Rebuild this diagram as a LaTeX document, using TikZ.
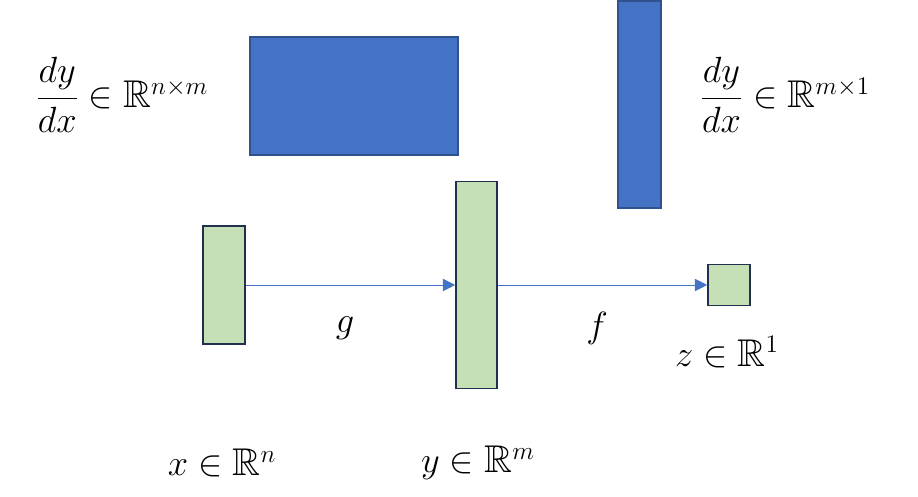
\documentclass[tikz,border=0pt]{standalone}
\usepackage{amsmath, amssymb}
\usepackage{xcolor}
\usepackage{tikz}
\usetikzlibrary{arrows.meta}

\definecolor{vecfill}{HTML}{C5E0B4}
\definecolor{vecline}{HTML}{22304F}
\definecolor{jacfill}{HTML}{4472C4}
\definecolor{jacline}{HTML}{2F528F}

\begin{document}
\begin{tikzpicture}[
        > = {Triangle[length=7pt, width=7pt]}, % arrow head style
        vec/.style = {rectangle, draw=vecline, fill=vecfill, line width=0.9pt, inner sep=0pt},
        jac/.style = {rectangle, draw=jacline, fill=jacfill, line width=0.9pt, inner sep=0pt},
        lbl/.style = {font=\fontsize{22}{26}\selectfont},
    ]
        \useasboundingbox (0,0) rectangle (18.36,9.94);

        % Draw the jacobians
        \node[jac, minimum width=4.16cm, minimum height=2.36cm] (J1) at (7.08,8.02) {};
        \node[jac, minimum width=0.86cm, minimum height=4.14cm] (J2) at (12.79,7.85) {};

        % Draw the vectors
        \foreach \pos/\w/\h/\i in {
            (4.48,4.24)/0.84/2.36/X,
            (9.53,4.24)/0.82/4.14/Y,
            (14.58,4.24)/0.84/0.82/Z} {
            \node[vec, minimum width=\w cm, minimum height=\h cm] (\i) at \pos {};
        }

        % Draw the edges
        \foreach \b/\e in {
            X/Y,
            Y/Z} {
            \draw[->, line width=0.5pt, color=jacfill] (\b) -- (\e);
        }

        % Labels
        \node[lbl] (G) at (6.90,3.38) {$g$};
        \node[lbl] (F) at (11.94,3.38) {$f$};
        \node[lbl] (Xl) at (4.44,0.68) {$x \in \mathbb{R}^{n}$};
        \node[lbl] (Yl) at (9.56,0.68) {$y \in \mathbb{R}^{m}$};
        \node[lbl] (Zl) at (14.54,2.90) {$z \in \mathbb{R}^{1}$};
        \node[lbl] (D1) at (2.44,8.04) {$\dfrac{dy}{dx} \in \mathbb{R}^{n\times m}$};
        \node[lbl] (D2) at (15.70,8.04) {$\dfrac{dy}{dx} \in \mathbb{R}^{m\times 1}$};
    \end{tikzpicture}
\end{document}
